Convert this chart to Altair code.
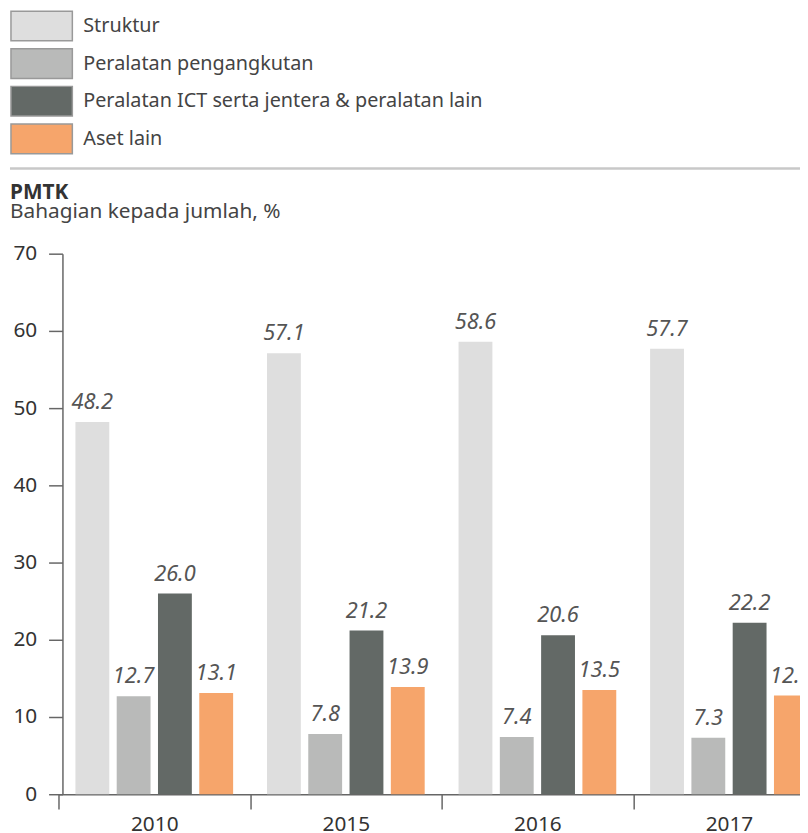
import altair as alt
import pandas as pd

years = ["2010", "2015", "2016", "2017"]
series = [
    "Struktur",
    "Peralatan pengangkutan",
    "Peralatan ICT serta jentera & peralatan lain",
    "Aset lain",
]
struktur = [48.2, 57.1, 58.6, 57.7]
pengangkutan = [12.7, 7.8, 7.4, 7.3]
ict = [26.0, 21.2, 20.6, 22.2]
aset = [13.1, 13.9, 13.5, 12.8]
colors = ["#dedede", "#b9bab9", "#636966", "#f6a56b"]
y_ticks = [0, 10, 20, 30, 40, 50, 60, 70]
title_text = "PMTK"
subtitle_text = "Bahagian kepada jumlah, %"

rows = []
for i, yr in enumerate(years):
    for s, vals in zip(series, [struktur, pengangkutan, ict, aset]):
        rows.append({"Tahun": yr, "Siri": s, "Nilai": vals[i]})
df = pd.DataFrame(rows)

FONT = "Noto Sans"
W, H = 745, 546

x = alt.X(
    "Tahun:N",
    sort=years,
    scale=alt.Scale(paddingInner=0, paddingOuter=0, range=[-4, 770]),
    axis=alt.Axis(
        title=None, labelAngle=0, tickBand="extent", tickSize=15,
        labelFontSize=21, labelPadding=5, labelColor="#333", labelFont=FONT,
        domainColor="#666", tickColor="#666", domainWidth=1.5, tickWidth=1.5,
    ),
)
xo = alt.XOffset("Siri:N", sort=series, scale=alt.Scale(paddingInner=0.18, paddingOuter=0.41))
y = alt.Y(
    "Nilai:Q",
    scale=alt.Scale(domain=[0, 70], nice=False),
    axis=alt.Axis(
        title=None, values=y_ticks, grid=False, tickSize=14,
        labelFontSize=21, labelPadding=12, labelColor="#333", labelFont=FONT,
        domainColor="#666", tickColor="#666", domainWidth=1.5, tickWidth=1.5,
    ),
)
color = alt.Color(
    "Siri:N",
    sort=series,
    scale=alt.Scale(domain=series, range=colors),
    legend=alt.Legend(
        title=None, orient="none", legendX=-31, legendY=-240, padding=0,
        symbolType="M-6.2,-3L6.2,-3L6.2,3L-6.2,3Z", symbolSize=100,
        symbolStrokeColor="#999", symbolStrokeWidth=1.5, symbolOpacity=1,
        labelFontSize=20, labelColor="#444", labelFont=FONT, labelOffset=32,
        rowPadding=2, labelLimit=600,
    ),
)

base = alt.Chart(df)
bars = base.mark_bar().encode(x=x, xOffset=xo, y=y, color=color)
labels = base.mark_text(
    dy=-13, fontStyle="italic", fontSize=22, color="#555", baseline="alphabetic", font=FONT
).encode(x=x, xOffset=xo, y=y, text=alt.Text("Nilai:Q", format=".1f"))

one = pd.DataFrame({"a": [0]})
sep = alt.Chart(one).mark_rule(color="#c8c8c8", strokeWidth=2.5).encode(
    x=alt.value(-53), x2=alt.value(W + 20), y=alt.value(-86)
)
title_mark = alt.Chart(one).mark_text(
    text=title_text, align="left", baseline="alphabetic", fontSize=21, fontWeight="bold",
    color="#333", font=FONT,
).encode(x=alt.value(-53), y=alt.value(-55))
subtitle_mark = alt.Chart(one).mark_text(
    text=subtitle_text, align="left", baseline="alphabetic", fontSize=21,
    color="#444", font=FONT,
).encode(x=alt.value(-53), y=alt.value(-36))

chart = (
    alt.layer(bars, labels, sep, title_mark, subtitle_mark)
    .properties(
        width=W,
        height=H,
        autosize=alt.AutoSizeParams(type="none"),
        padding={"left": 55, "top": 244, "right": 0, "bottom": 35},
    )
    .configure_view(strokeWidth=0)
)

chart.save("out.html", embed_options={"renderer": "svg", "actions": False})
